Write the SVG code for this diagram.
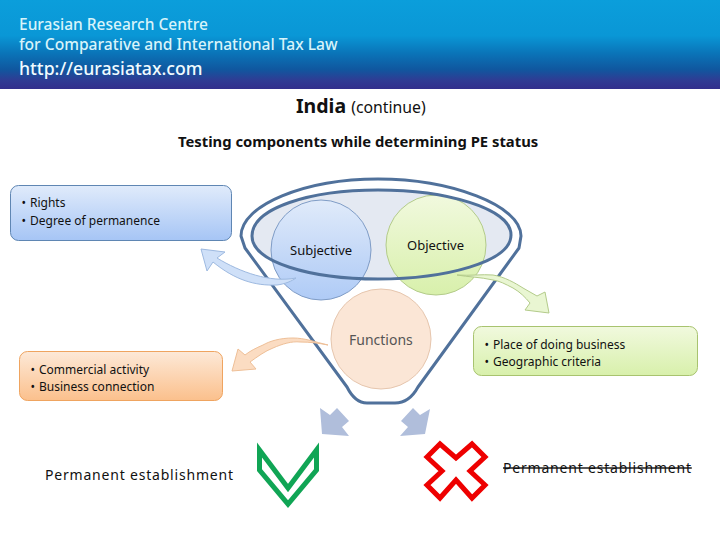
<svg xmlns="http://www.w3.org/2000/svg" width="720" height="540" viewBox="0 0 720 540">
<style>
text{font-family:"Noto Sans","Open Sans",sans-serif;fill:#111}
.h{fill:#d8f4fa;font-weight:500}
.b{font-size:12px}
.c{font-size:13px}
.pe{font-size:14px;letter-spacing:.8px}
.f{fill:none;stroke:#50719b;stroke-width:3}
</style>
<defs>
<linearGradient id="hd" x1="0" y1="0" x2="0" y2="1"><stop offset="0" stop-color="#0b9edb"/><stop offset=".4" stop-color="#0a97d6"/><stop offset=".6" stop-color="#0a74b8"/><stop offset=".78" stop-color="#10579f"/><stop offset=".9" stop-color="#2f3c94"/><stop offset="1" stop-color="#332f8c"/></linearGradient>
<linearGradient id="bl" x1="0" y1="0" x2="0" y2="1"><stop offset="0" stop-color="#e0ebfb"/><stop offset="1" stop-color="#a6c5f5"/></linearGradient>
<linearGradient id="gr" x1="0" y1="0" x2="0" y2="1"><stop offset="0" stop-color="#f1f9de"/><stop offset="1" stop-color="#d8f0ab"/></linearGradient>
<linearGradient id="or" x1="0" y1="0" x2="0" y2="1"><stop offset="0" stop-color="#fde9d8"/><stop offset="1" stop-color="#fbc08c"/></linearGradient>
</defs>
<rect width="720" height="89" fill="url(#hd)"/>
<g id="header">
<text class="h" x="19" y="30" font-size="15.500">Eurasian Research Centre</text>
<text class="h" x="19" y="50" font-size="15.600">for Comparative and International Tax Law</text>
<text x="19" y="75" font-size="17.700" style="fill:#f0fbff;font-weight:500">http://eurasiatax.com</text>
</g>
<text x="296" y="113" font-size="19.500" font-weight="700">India <tspan font-size="15.800" font-weight="400">(continue)</tspan></text>
<text x="178" y="147" font-size="14.800" font-weight="700">Testing components while determining PE status</text>
<g id="funnel">
<path d="M252 236C252 208 310 190 378 190C445 190 511 208 511 235C511 262 445 279 378 279C310 279 252 262 252 236Z" fill="#e4e9f2"/>
</g>
<g id="subjective"><circle cx="321" cy="250" r="50" fill="url(#bl)" stroke="#7f9cc6" stroke-width="1" fill-opacity=".9"/><text class="c" x="290" y="255">Subjective</text></g>
<g id="objective"><circle cx="436" cy="245" r="50" fill="url(#gr)" stroke="#b3cb8a" stroke-width="1"/><text class="c" x="407" y="250">Objective</text></g>
<g id="functions"><circle cx="381" cy="339" r="50" fill="#fbe6d6" stroke="#e6c6ae" stroke-width="1"/><text x="349" y="345" font-size="14" style="fill:#555">Functions</text></g>
<g id="connectors">
<path class="f" d="M252 236C252 208 310 190 378 190C445 190 511 208 511 235C511 262 445 279 378 279C310 279 252 262 252 236Z"/>
<path class="f" d="M245 248L241 236C241 205 305 179 378 179C450 179 521 205 521 236L519 248L418 387C412 398 405 403 395 403H367C358 403 352 397 347 387Z" stroke-linejoin="round"/>
<path d="M296 278C270 283 240 272 217 258L225 252L201 249L207 271L213 262C235 280 255 286 277 285C285 284 292 281 296 278Z" fill="#cfe0f8" stroke="#9db9e0" stroke-width="1"/>
<path d="M457 275C470 276 482 274 493 275C505 277 515 283 523 288L537 296L545 292L549 313L525 310L530 303C525 297 520 292 513 288C505 284 500 281 493 280C480 277 468 277 457 275Z" fill="#e9f6d2" stroke="#b3cb8a" stroke-width="1"/>
<path d="M328 345C315 342 305 338 293 338C280 338 270 341 263 345C256 348 250 351 245 355L238 349L232 371L256 369L250 362C257 357 265 351 273 348C282 344 292 341 300 342C310 342 318 343 328 345Z" fill="#fbdcc2" stroke="#eebf97" stroke-width="1"/>
<path d="M320 408L330 415L337 408L349 421L342 427L349 436L322 434Z" fill="#b0bedb"/>
<path d="M430 409L425 434L400 436L408 427L401 421L413 408L420 415Z" fill="#b0bedb"/>
</g>
<g id="box-rights"><rect x="10.500" y="185.500" width="221" height="55" rx="8" fill="url(#bl)" stroke="#5f86b3"/>
<text class="b" x="21.500" y="207">•&#8201;&#8201;Rights</text><text class="b" x="21.500" y="225">•&#8201;&#8201;Degree of permanence</text></g>
<g id="box-place"><rect x="473.500" y="326.500" width="224" height="49" rx="8" fill="url(#gr)" stroke="#a8c36f"/>
<text class="b" x="484.500" y="349">•&#8201;&#8201;Place of doing business</text><text class="b" x="484.500" y="366">•&#8201;&#8201;Geographic criteria</text></g>
<g id="box-commercial"><rect x="19.500" y="351.500" width="203" height="49" rx="8" fill="url(#or)" stroke="#efa460"/>
<text class="b" x="30.500" y="374">•&#8201;&#8201;Commercial activity</text><text class="b" x="30.500" y="391">•&#8201;&#8201;Business connection</text></g>
<g id="check"><path d="M259.500 450L288 488L316.500 450V470L288 504L259.500 470Z" fill="none" stroke="#10a555" stroke-width="5"/></g>
<g id="cross"><path d="M427 457L440 444L456 458L472 444L485 457L470 471L485 485L472 498L456 480L440 498L427 485L442 471Z" fill="none" stroke="#ee0000" stroke-width="5"/></g>
<text class="pe" x="45" y="480">Permanent establishment</text>
<text class="pe" x="503" y="473" text-decoration="line-through">Permanent establishment</text>
</svg>
